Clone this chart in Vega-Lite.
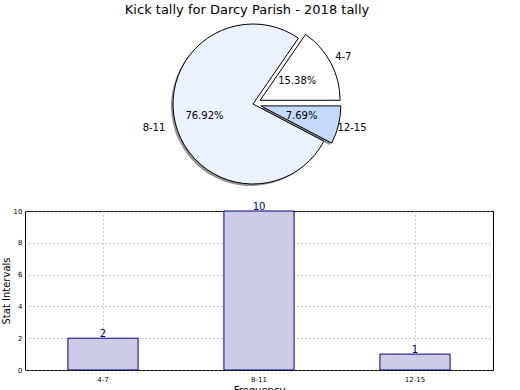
{
  "$schema": "https://vega.github.io/schema/vega-lite/v6.json",
  "padding": {"top": 4, "left": 0, "right": 0, "bottom": 0},
  "background": "white",
  "config": {
    "font": "DejaVu Sans",
    "view": {"stroke": null},
    "axis": {"labelColor": "black", "titleColor": "black", "labelFont": "DejaVu Sans", "titleFont": "DejaVu Sans"}
  },
  "title": {"text": "Kick tally for Darcy Parish - 2018 tally", "fontSize": 13, "fontWeight": "normal", "anchor": "middle", "offset": 4, "color": "black", "font": "DejaVu Sans"},
  "data": {
    "values": [
      {"range": "4-7", "count": 2, "pct": "15.38%", "ord": 1},
      {"range": "8-11", "count": 10, "pct": "76.92%", "ord": 3},
      {"range": "12-15", "count": 1, "pct": "7.69%", "ord": 2}
    ]
  },
  "spacing": 14,
  "vconcat": [
    {
      "width": 456,
      "height": 166,
      "view": {"stroke": null},
      "transform": [
        {"stack": "count", "groupby": [], "sort": [{"field": "ord", "order": "ascending"}], "as": ["t0", "t1"]}
      ],
      "layer": [
        {
          "transform": [{"filter": "datum.range === '8-11'"}],
          "mark": {"type": "arc", "outerRadius": 80, "fill": "#777777", "opacity": 0.8, "xOffset": -2, "yOffset": 2},
          "encoding": {
            "theta": {"field": "t0", "type": "quantitative", "scale": {"domain": [0, 13], "range": [0.604, 6.887]}},
            "theta2": {"field": "t1"}
          }
        },
        {
          "transform": [{"filter": "datum.range === '12-15'"}],
          "mark": {"type": "arc", "outerRadius": 80, "fill": "#777777", "opacity": 0.8, "xOffset": 5.8, "yOffset": 3.9},
          "encoding": {
            "theta": {"field": "t0", "type": "quantitative", "scale": {"domain": [0, 13], "range": [0.604, 6.887]}},
            "theta2": {"field": "t1"}
          }
        },
        {
          "transform": [{"filter": "datum.range === '8-11'"}],
          "mark": {"type": "arc", "outerRadius": 80, "fill": "#ebf1fd", "stroke": "black", "strokeWidth": 1},
          "encoding": {
            "theta": {"field": "t0", "type": "quantitative", "scale": {"domain": [0, 13], "range": [0.604, 6.887]}},
            "theta2": {"field": "t1"}
          }
        },
        {
          "transform": [{"filter": "datum.range === '4-7'"}],
          "mark": {"type": "arc", "outerRadius": 80, "fill": "white", "stroke": "black", "strokeWidth": 1, "xOffset": 7.1, "yOffset": -3.7},
          "encoding": {
            "theta": {"field": "t0", "type": "quantitative", "scale": {"domain": [0, 13], "range": [0.604, 6.887]}},
            "theta2": {"field": "t1"}
          }
        },
        {
          "transform": [{"filter": "datum.range === '12-15'"}],
          "mark": {"type": "arc", "outerRadius": 80, "fill": "#c5d8fe", "stroke": "black", "strokeWidth": 1, "xOffset": 7.8, "yOffset": 1.9},
          "encoding": {
            "theta": {"field": "t0", "type": "quantitative", "scale": {"domain": [0, 13], "range": [0.604, 6.887]}},
            "theta2": {"field": "t1"}
          }
        },
        {
          "mark": {"type": "text", "radius": 50, "fontSize": 10, "color": "black"},
          "encoding": {
            "theta": {"field": "count", "type": "quantitative", "stack": true, "scale": {"domain": [0, 13], "range": [0.604, 6.887]}},
            "order": {"field": "ord"},
            "text": {"field": "pct"}
          }
        },
        {
          "mark": {"type": "text", "radius": 102, "fontSize": 10, "color": "black"},
          "encoding": {
            "theta": {"field": "count", "type": "quantitative", "stack": true, "scale": {"domain": [0, 13], "range": [0.604, 6.887]}},
            "order": {"field": "ord"},
            "text": {"field": "range"}
          }
        }
      ]
    },
    {
      "width": 468,
      "height": 159,
      "view": {"stroke": "black", "strokeWidth": 1},
      "encoding": {
        "x": {
          "field": "range", "type": "nominal", "sort": ["4-7", "8-11", "12-15"],
          "scale": {"paddingInner": 0, "paddingOuter": 0},
          "axis": {"title": "Frequency", "titleFontSize": 10, "titleFontWeight": "normal", "labelFontSize": 7, "labelAngle": 0, "bandPosition": 0.5, "grid": true, "gridDash": [1, 3], "gridColor": "#999999", "tickSize": 0, "domain": false, "labelPadding": 5, "titlePadding": 3}
        },
        "y": {
          "field": "count", "type": "quantitative",
          "scale": {"domain": [0, 10]},
          "axis": {"title": "Stat Intervals", "titleFontSize": 10, "titleFontWeight": "normal", "labelFontSize": 7, "values": [0, 2, 4, 6, 8, 10], "grid": true, "gridDash": [1, 3], "gridColor": "#999999", "tickSize": 0, "domain": false, "labelPadding": 3, "titlePadding": 2}
        }
      },
      "layer": [
        {"mark": {"type": "bar", "fill": "#ccccE6", "stroke": "navy", "strokeWidth": 1, "width": {"band": 0.45}}},
        {"mark": {"type": "text", "fontSize": 10, "color": "navy", "baseline": "alphabetic", "dy": -1}, "encoding": {"text": {"field": "count"}}}
      ]
    }
  ]
}
